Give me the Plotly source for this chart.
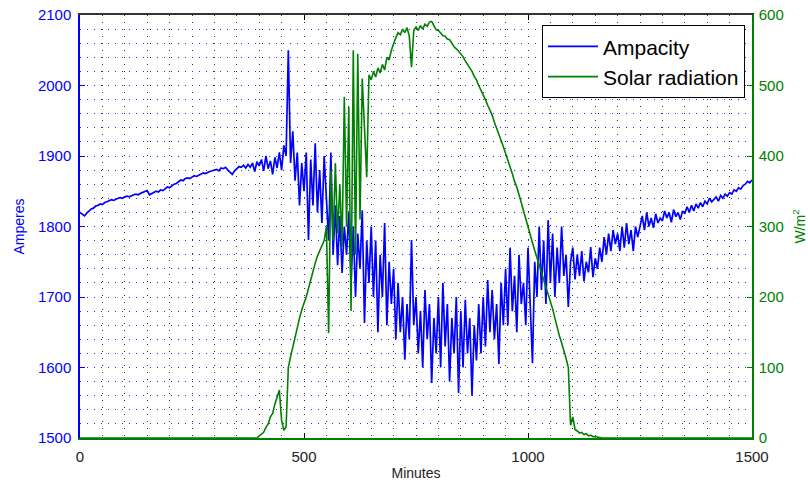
import plotly.graph_objects as go

# ---- data (5-minute steps) ----
MINUTES = list(range(0, 1501, 5))

AMPACITY = [
    # 0-395
    1820, 1817, 1815, 1819, 1822, 1825, 1826, 1829, 1830, 1832,
    1831, 1834, 1835, 1836, 1838, 1837, 1839, 1840, 1841, 1840,
    1842, 1843, 1842, 1844, 1845, 1846, 1845, 1847, 1848, 1849,
    1851, 1845, 1847, 1849, 1850, 1849, 1852, 1851, 1853, 1856,
    1855, 1858, 1860, 1861, 1864, 1866, 1865, 1868, 1869, 1868,
    1870, 1872, 1871, 1873, 1874, 1876, 1875, 1877, 1878, 1879,
    1880, 1881, 1879, 1883, 1882, 1884, 1880, 1877, 1874, 1879,
    1882, 1885, 1884, 1887, 1883, 1888, 1884, 1890, 1878, 1892,
    # 400-445
    1886, 1895, 1879, 1900, 1882, 1893, 1874, 1898, 1883, 1905,
    # 450-495
    1880, 1915, 1900, 2050, 1890, 1935, 1865, 1905, 1830, 1890,
    # 500-545
    1850, 1905, 1781, 1895, 1830, 1918, 1820, 1880, 1805, 1900,
    # 550-595
    1840, 1780, 1905, 1760, 1830, 1745, 1815, 1734, 1800, 1760,
    # 600-645
    1820, 1720, 1800, 1700, 1790, 1740, 1823, 1663, 1780, 1720,
    # 650-695
    1800, 1700, 1780, 1650, 1760, 1700, 1805, 1660, 1750, 1690,
    # 700-745
    1740, 1640, 1720, 1650, 1700, 1611, 1690, 1640, 1781, 1660,
    # 750-795
    1700, 1620, 1680, 1600, 1710, 1640, 1690, 1578, 1670, 1620,
    # 800-845
    1700, 1600, 1720, 1630, 1690, 1580, 1670, 1620, 1700, 1564,
    # 850-895
    1680, 1600, 1696, 1620, 1670, 1560, 1660, 1610, 1690, 1620,
    # 900-945
    1700, 1630, 1724, 1650, 1710, 1640, 1690, 1605, 1720, 1660,
    # 950-995
    1740, 1660, 1770, 1680, 1730, 1650, 1760, 1690, 1720, 1660,
    # 1000-1045
    1770, 1690, 1606, 1750, 1700, 1800, 1710, 1780, 1690, 1809,
    # 1050-1095
    1720, 1790, 1700, 1770, 1720, 1800, 1730, 1760, 1686, 1750,
    # 1100-1145
    1770, 1725, 1760, 1730, 1765, 1722, 1750, 1735, 1771, 1728,
    # 1150-1195
    1755, 1740, 1770, 1750, 1785, 1760, 1790, 1765, 1795, 1775,
    # 1200-1245
    1790, 1765, 1800, 1770, 1805, 1775, 1795, 1765, 1800, 1785,
    # 1250-1295
    1800, 1815, 1795, 1820, 1800, 1812, 1798, 1818, 1805, 1812,
    # 1300-1345
    1808, 1822, 1812, 1820, 1806, 1824, 1814, 1820, 1810, 1822,
    # 1350-1395
    1818, 1828, 1820, 1830, 1822, 1832, 1826, 1834, 1828, 1836,
    # 1400-1445
    1832, 1840, 1835, 1838, 1842, 1836, 1844, 1840, 1846, 1843,
    # 1450-1500
    1848, 1846, 1852, 1850, 1855, 1853, 1858, 1860, 1864, 1862, 1866,
]

SOLAR = (
    [0] * 80  # 0-395
    + [3, 5, 8, 15, 20, 30, 35, 48, 60, 68]            # 400-445
    + [25, 11, 16, 100, 115, 130, 145, 160, 170, 182]  # 450-495
    + [190, 200, 212, 225, 238, 248, 258, 265, 272, 280]  # 500-545
    + [300, 149, 380, 280, 390, 290, 360, 271, 484, 300]  # 550-595
    + [470, 180, 550, 260, 545, 310, 510, 450, 370, 515]  # 600-645
    + [508, 520, 512, 525, 518, 530, 522, 540, 536, 550]  # 650-695
    + [560, 568, 575, 572, 580, 575, 582, 570, 526, 578]  # 700-745
    + [583, 578, 585, 580, 587, 584, 590, 591, 585, 579]  # 750-795
    + [578, 575, 571, 570, 566, 565, 560, 555, 552, 548]  # 800-845
    + [544, 541, 535, 530, 525, 520, 513, 508, 500, 494]  # 850-895
    + [487, 480, 472, 465, 458, 448, 440, 432, 422, 413]  # 900-945
    + [404, 395, 385, 375, 364, 356, 345, 333, 322, 310]  # 950-995
    + [298, 288, 277, 266, 256, 245, 235, 225, 215, 206]  # 1000-1045
    + [195, 183, 170, 155, 145, 135, 125, 113, 100, 18]   # 1050-1095
    + [30, 12, 10, 7, 8, 5, 6, 3, 4, 2]                   # 1100-1145
    + [2, 1, 0, 0, 0, 0, 0, 0, 0, 0]                      # 1150-1195
    + [0] * 61                                            # 1200-1500
)

X_TICKS = [0, 500, 1000, 1500]
AMP_TICKS = [1500, 1600, 1700, 1800, 1900, 2000, 2100]
SOLAR_TICKS = [0, 100, 200, 300, 400, 500, 600]

BLUE = "#0000ff"
GREEN = "#008000"
FONT = "Liberation Sans, Arial, sans-serif"

fig = go.Figure()
fig.add_trace(go.Scatter(x=MINUTES, y=AMPACITY, mode="lines", name="Ampacity",
                         line=dict(color=BLUE, width=1.7), xaxis="x", yaxis="y"))
fig.add_trace(go.Scatter(x=MINUTES, y=SOLAR, mode="lines", name="Solar radiation",
                         line=dict(color=GREEN, width=1.6), xaxis="x2", yaxis="y2"))

DOT = "1px,6px"
fig.update_layout(
    width=808, height=488,
    margin=dict(l=80, r=56, t=15, b=50),
    paper_bgcolor="white", plot_bgcolor="white",
    font=dict(family=FONT, size=15, color="black"),
    showlegend=True,
    legend=dict(x=0.9896, y=0.976, xanchor="right", yanchor="top",
                bgcolor="white", bordercolor="black", borderwidth=1,
                itemwidth=50,
                font=dict(size=21, color="black"), tracegroupgap=0),
    xaxis=dict(range=[0, 1500], tickvals=X_TICKS, ticks="inside", ticklen=5,
               tickcolor="black", tickfont=dict(color="#222", size=15),
               showline=True, linecolor=GREEN, linewidth=1.5, mirror=False,
               showgrid=True, gridcolor="#333", griddash=DOT, gridwidth=1,
               minor=dict(dtick=50, showgrid=True, gridcolor="#333", griddash=DOT, ticks=""),
               zeroline=False, ticklabelstandoff=4, automargin=False,
               title=dict(text="Minutes", font=dict(size=14, color="#222"), standoff=4)),
    xaxis2=dict(range=[0, 1500], matches="x", overlaying="x", side="top", anchor="y2",
                tickvals=X_TICKS, ticks="inside", ticklen=5, tickcolor="black",
                showticklabels=False, showline=True, linecolor="#333", linewidth=1.5,
                showgrid=False, zeroline=False, automargin=False),
    yaxis=dict(range=[1500, 2100], tickvals=AMP_TICKS, ticks="inside", ticklen=5,
               tickcolor=BLUE, tickfont=dict(color=BLUE, size=15),
               showline=True, linecolor=BLUE, linewidth=1.5, mirror=False,
               showgrid=True, gridcolor="#2a2aff", griddash=DOT, gridwidth=1,
               minor=dict(dtick=20, showgrid=True, gridcolor="#2a2aff", griddash=DOT, ticks=""),
               zeroline=False, ticklabelstandoff=4, automargin=False,
               title=dict(text="Amperes", font=dict(size=14, color=BLUE), standoff=10)),
    yaxis2=dict(range=[0, 600], tickvals=SOLAR_TICKS, overlaying="y", side="right",
                anchor="x2", ticks="inside", ticklen=5, tickcolor=GREEN,
                tickfont=dict(color=GREEN, size=15),
                showline=True, linecolor=GREEN, linewidth=1.5,
                showgrid=False, zeroline=False, ticklabelstandoff=2, automargin=False,
                title=dict(text="W/m<sup>2</sup>", font=dict(size=14, color=GREEN), standoff=12)),
)

fig.write_html("out.html")
